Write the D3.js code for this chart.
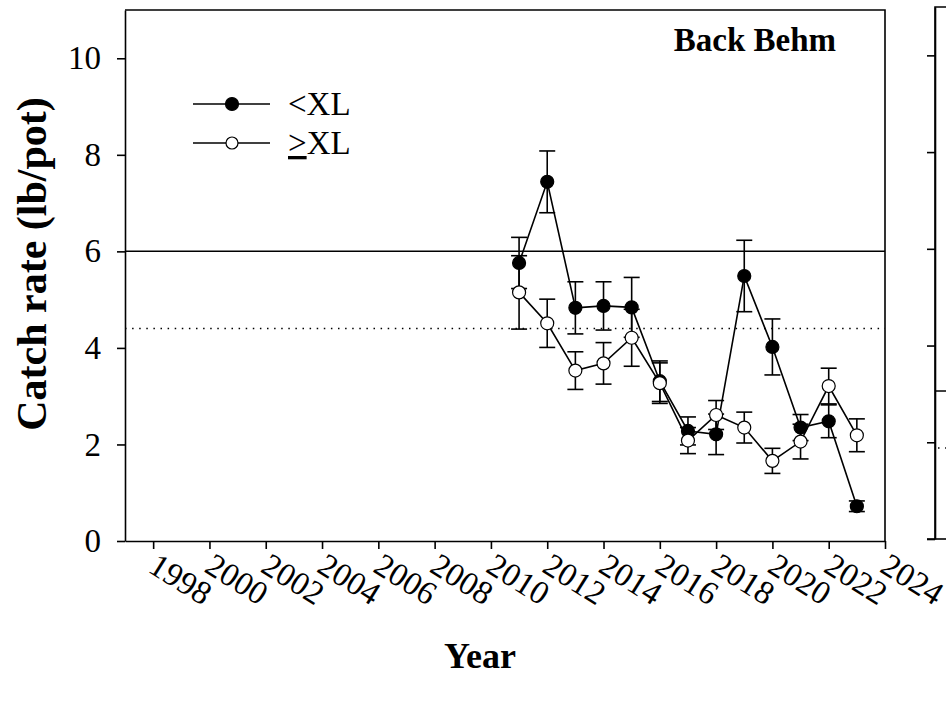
<!DOCTYPE html>
<html><head><meta charset="utf-8">
<script src="https://cdn.jsdelivr.net/npm/d3@7"></script>
<style>body{margin:0;background:#fff;} svg{display:block;}</style></head>
<body><svg id="c" width="946" height="701"></svg>
<script>
const years = [2011,2012,2013,2014,2015,2016,2017,2018,2019,2020,2021,2022,2023];
const smallVals = [5.76,7.44,4.83,4.87,4.84,3.31,2.28,2.21,5.49,4.02,2.35,2.48,0.72];
const smallSE   = [0.53,0.64,0.54,0.50,0.62,0.42,0.29,0.42,0.74,0.58,0.27,0.34,0.11];
const largeVals = [5.15,4.51,3.53,3.68,4.21,3.27,2.08,2.61,2.35,1.66,2.06,3.21,2.19];
const largeSE   = [0.76,0.50,0.39,0.43,0.59,0.42,0.27,0.30,0.32,0.26,0.36,0.37,0.34];
const xTicks = [1998,2000,2002,2004,2006,2008,2010,2012,2014,2016,2018,2020,2022,2024];
const yTicks = [0,2,4,6,8,10];
const refSolid = 6.0, refDotted = 4.4;
const rightRefSolid = 3.06, rightRefDotted = 1.88;
const panelTitle = "Back Behm";
const legendLabels = ["<XL", "XL"];

const FF = '"Liberation Serif"';
const svg = d3.select("#c");
const L = 125, R = 885, T = 10, B = 541;
const x = d3.scaleLinear().domain([1997,2024]).range([L,R]);
const y = d3.scaleLinear().domain([0,11]).range([B,T]);
const sw = 1.6;

svg.append("path").attr("d",`M${L},${T}H${R}V${B}`).attr("fill","none").attr("stroke","#000").attr("stroke-width",sw);

svg.append("line").attr("x1",L).attr("x2",R).attr("y1",y(refSolid)).attr("y2",y(refSolid)).attr("stroke","#000").attr("stroke-width",1.5);
svg.append("line").attr("x1",L).attr("x2",R).attr("y1",y(refDotted)).attr("y2",y(refDotted)).attr("stroke","#000").attr("stroke-width",1.5).attr("stroke-dasharray","1.5,5.6");

const ya = svg.append("g").attr("transform",`translate(${L},0)`)
  .call(d3.axisLeft(y).tickValues(yTicks).tickSize(8).tickSizeOuter(0).tickPadding(16).tickFormat(d3.format("d")));
ya.selectAll("text").attr("font-size",33).attr("fill","#000").style("font-family",FF);
ya.selectAll("path,line").attr("stroke","#000").attr("stroke-width",sw);

const xa = svg.append("g").attr("transform",`translate(0,${B})`)
  .call(d3.axisBottom(x).tickValues(xTicks).tickSize(8).tickSizeOuter(0).tickFormat(""));
xa.selectAll("path,line").attr("stroke","#000").attr("stroke-width",sw);
xa.selectAll(".tick").append("text")
  .attr("transform","translate(-7,30) rotate(32)")
  .attr("text-anchor","start").attr("font-size",33).attr("fill","#000")
  .style("font-family",FF)
  .text(d=>d);

function drawSeries(vals, se, filled){
  const pts = years.map((yr,i)=>({yr, v:vals[i], s:se[i]}));
  svg.append("path").datum(pts)
    .attr("d", d3.line().x(d=>x(d.yr)).y(d=>y(d.v)))
    .attr("fill","none").attr("stroke","#000").attr("stroke-width",1.6);
  const eb = svg.append("g").attr("stroke","#000").attr("stroke-width",1.6);
  pts.forEach(d=>{
    const cx = x(d.yr), y1 = y(d.v+d.s), y2 = y(d.v-d.s);
    eb.append("line").attr("x1",cx).attr("x2",cx).attr("y1",y1).attr("y2",y2);
    eb.append("line").attr("x1",cx-8).attr("x2",cx+8).attr("y1",y1).attr("y2",y1);
    eb.append("line").attr("x1",cx-8).attr("x2",cx+8).attr("y1",y2).attr("y2",y2);
  });
  svg.append("g").selectAll("circle").data(pts).join("circle")
    .attr("cx",d=>x(d.yr)).attr("cy",d=>y(d.v)).attr("r",6.5)
    .attr("fill",filled?"#000":"#fff").attr("stroke","#000").attr("stroke-width",1.2);
}
drawSeries(smallVals, smallSE, true);
drawSeries(largeVals, largeSE, false);

svg.append("text").attr("x",836).attr("y",51).attr("text-anchor","end")
  .attr("font-size",33).attr("font-weight","bold").style("font-family",FF).text(panelTitle);

const lg = svg.append("g");
[[104,true],[143,false]].forEach(([ly,f])=>{
  lg.append("line").attr("x1",193).attr("x2",270).attr("y1",ly).attr("y2",ly).attr("stroke","#000").attr("stroke-width",1.6);
  lg.append("circle").attr("cx",232).attr("cy",ly).attr("r",f?6.5:6)
    .attr("fill",f?"#000":"#fff").attr("stroke","#000").attr("stroke-width",1.2);
});
lg.append("text").attr("x",288).attr("y",115).attr("font-size",33).style("font-family",FF).text(legendLabels[0]);
const t2 = lg.append("text").attr("x",288).attr("y",154).attr("font-size",33).style("font-family",FF);
t2.append("tspan").attr("text-decoration","underline").text(">");
t2.append("tspan").text(legendLabels[1]);

svg.append("text").attr("transform",`translate(46,264) rotate(-90)`)
  .attr("text-anchor","middle").attr("font-size",42).attr("font-weight","bold").style("font-family",FF).text("Catch rate (lb/pot)");
svg.append("text").attr("x",480).attr("y",668).attr("text-anchor","middle")
  .attr("font-size",36).attr("font-weight","bold").style("font-family",FF).text("Year");

const R2L = 935, R2T = 7, R2B = 539;
const y2 = d3.scaleLinear().domain([0,11]).range([R2B,R2T]);
svg.append("path").attr("d",`M946,${R2T}H${R2L}V${R2B}`).attr("fill","none").attr("stroke","#000").attr("stroke-width",sw);
const ya2 = svg.append("g").attr("transform",`translate(${R2L},0)`)
  .call(d3.axisLeft(y2).tickValues(yTicks).tickSize(8).tickSizeOuter(0).tickFormat(""));
ya2.selectAll("path,line").attr("stroke","#000").attr("stroke-width",sw);
svg.append("line").attr("x1",R2L-8).attr("x2",946).attr("y1",R2B).attr("y2",R2B).attr("stroke","#000").attr("stroke-width",sw);
svg.append("line").attr("x1",R2L).attr("x2",946).attr("y1",y2(rightRefSolid)).attr("y2",y2(rightRefSolid)).attr("stroke","#000").attr("stroke-width",1.5);
svg.append("line").attr("x1",R2L).attr("x2",946).attr("y1",y2(rightRefDotted)).attr("y2",y2(rightRefDotted)).attr("stroke","#000").attr("stroke-width",1.5).attr("stroke-dasharray","1.5,5.6").attr("stroke-dashoffset",-3);
</script></body></html>
